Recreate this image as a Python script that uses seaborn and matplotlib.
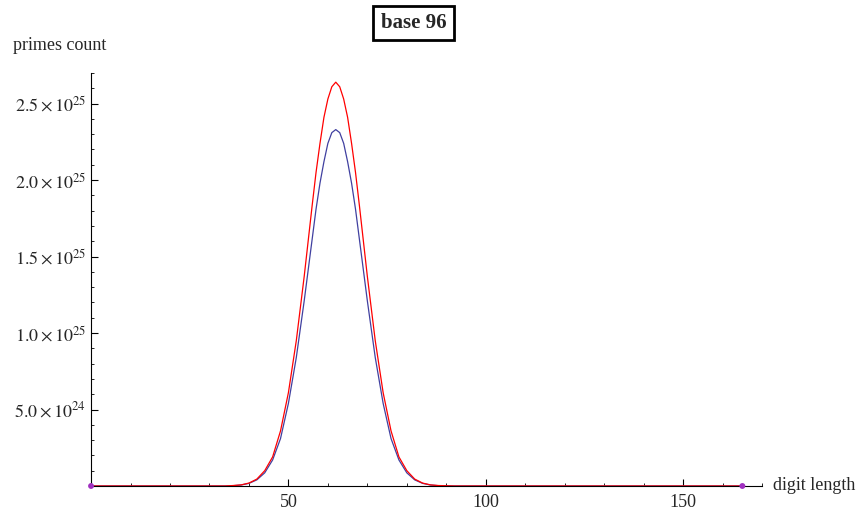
import matplotlib
matplotlib.use("Agg")
import matplotlib.pyplot as plt
import seaborn as sns
import pandas as pd
from matplotlib.ticker import MultipleLocator

sns.set_theme(style="white")
plt.rcParams["font.family"] = ["Liberation Serif", "DejaVu Serif"]
plt.rcParams["mathtext.fontset"] = "stix"

# digit length samples (in units of 1e25)
digits = [0, 30, 34, 36, 38, 40, 42, 44, 46, 48, 50, 52, 54, 56, 57, 58, 59, 60,
          61, 62, 63, 64, 65, 66, 67, 68, 70, 72, 74, 76, 78, 80, 82, 84, 86,
          88, 92, 100, 165]
red_vals = [0, 0, 0, 0.003, 0.007, 0.019, 0.045, 0.10, 0.19, 0.36, 0.61, 0.95,
            1.37, 1.83, 2.05, 2.24, 2.41, 2.53, 2.61, 2.64, 2.61, 2.53, 2.41,
            2.24, 2.05, 1.83, 1.37, 0.95, 0.61, 0.36, 0.19, 0.10, 0.045, 0.019,
            0.007, 0.003, 0, 0, 0]
blue_vals = [0, 0, 0, 0.002, 0.0065, 0.017, 0.040, 0.086, 0.17, 0.31, 0.54, 0.84,
             1.21, 1.61, 1.81, 1.98, 2.12, 2.24, 2.31, 2.33, 2.31, 2.24, 2.12,
             1.98, 1.81, 1.61, 1.21, 0.84, 0.54, 0.31, 0.17, 0.086, 0.040, 0.017,
             0.0065, 0.002, 0, 0, 0]
end_x = [0, 165]
end_y = [0, 0]

df = pd.DataFrame({"x": digits,
                   "red": [v * 1e25 for v in red_vals],
                   "blue": [v * 1e25 for v in blue_vals]})

fig = plt.figure(figsize=(8.67, 5.14), dpi=100)
ax = fig.add_axes([0.105, 0.0545, 0.774, 0.8035])
sns.lineplot(data=df, x="x", y="blue", color="#4040a0", lw=0.9, ax=ax)
sns.lineplot(data=df, x="x", y="red", color="#ff0000", lw=0.9, ax=ax)
sns.scatterplot(x=end_x, y=end_y, color="#a030c0", s=18, edgecolor="none",
                ax=ax, zorder=5, clip_on=False)

ax.set_xlim(0, 170)
ax.set_ylim(0, 2.7e25)
for s in ["top", "right"]:
    ax.spines[s].set_visible(False)
for s in ["left", "bottom"]:
    ax.spines[s].set_color("black")
    ax.spines[s].set_linewidth(0.8)
ax.xaxis.set_major_locator(MultipleLocator(50))
ax.xaxis.set_minor_locator(MultipleLocator(10))
ax.set_yticks([0.5e25, 1.0e25, 1.5e25, 2.0e25, 2.5e25])
ax.set_yticklabels([r"$5.0\times10^{24}$", r"$1.0\times10^{25}$",
                    r"$1.5\times10^{25}$", r"$2.0\times10^{25}$",
                    r"$2.5\times10^{25}$"])
ax.yaxis.set_minor_locator(MultipleLocator(1e24))
ax.tick_params(which="both", direction="in", color="black", bottom=True, left=True)
ax.tick_params(which="major", length=5, labelsize=13, width=0.8)
ax.tick_params(axis="x", pad=6)
ax.tick_params(which="minor", length=2.5, width=0.6)
ax.set_xticks([50, 100, 150])
ax.set_xticklabels(["50", "100", "150"])
ax.set_xlabel("")
ax.set_ylabel("")

fig.text(0.015, 0.895, "primes count", fontsize=13, ha="left", va="bottom")
fig.text(0.892, 0.055, "digit length", fontsize=13, ha="left", va="center")
fig.text(0.477, 0.955, "base 96", fontsize=15, fontweight="bold", ha="center",
         va="center", bbox=dict(facecolor="white", edgecolor="black", lw=2,
                                boxstyle="square,pad=0.35"))

fig.savefig("out.png", dpi=100)
